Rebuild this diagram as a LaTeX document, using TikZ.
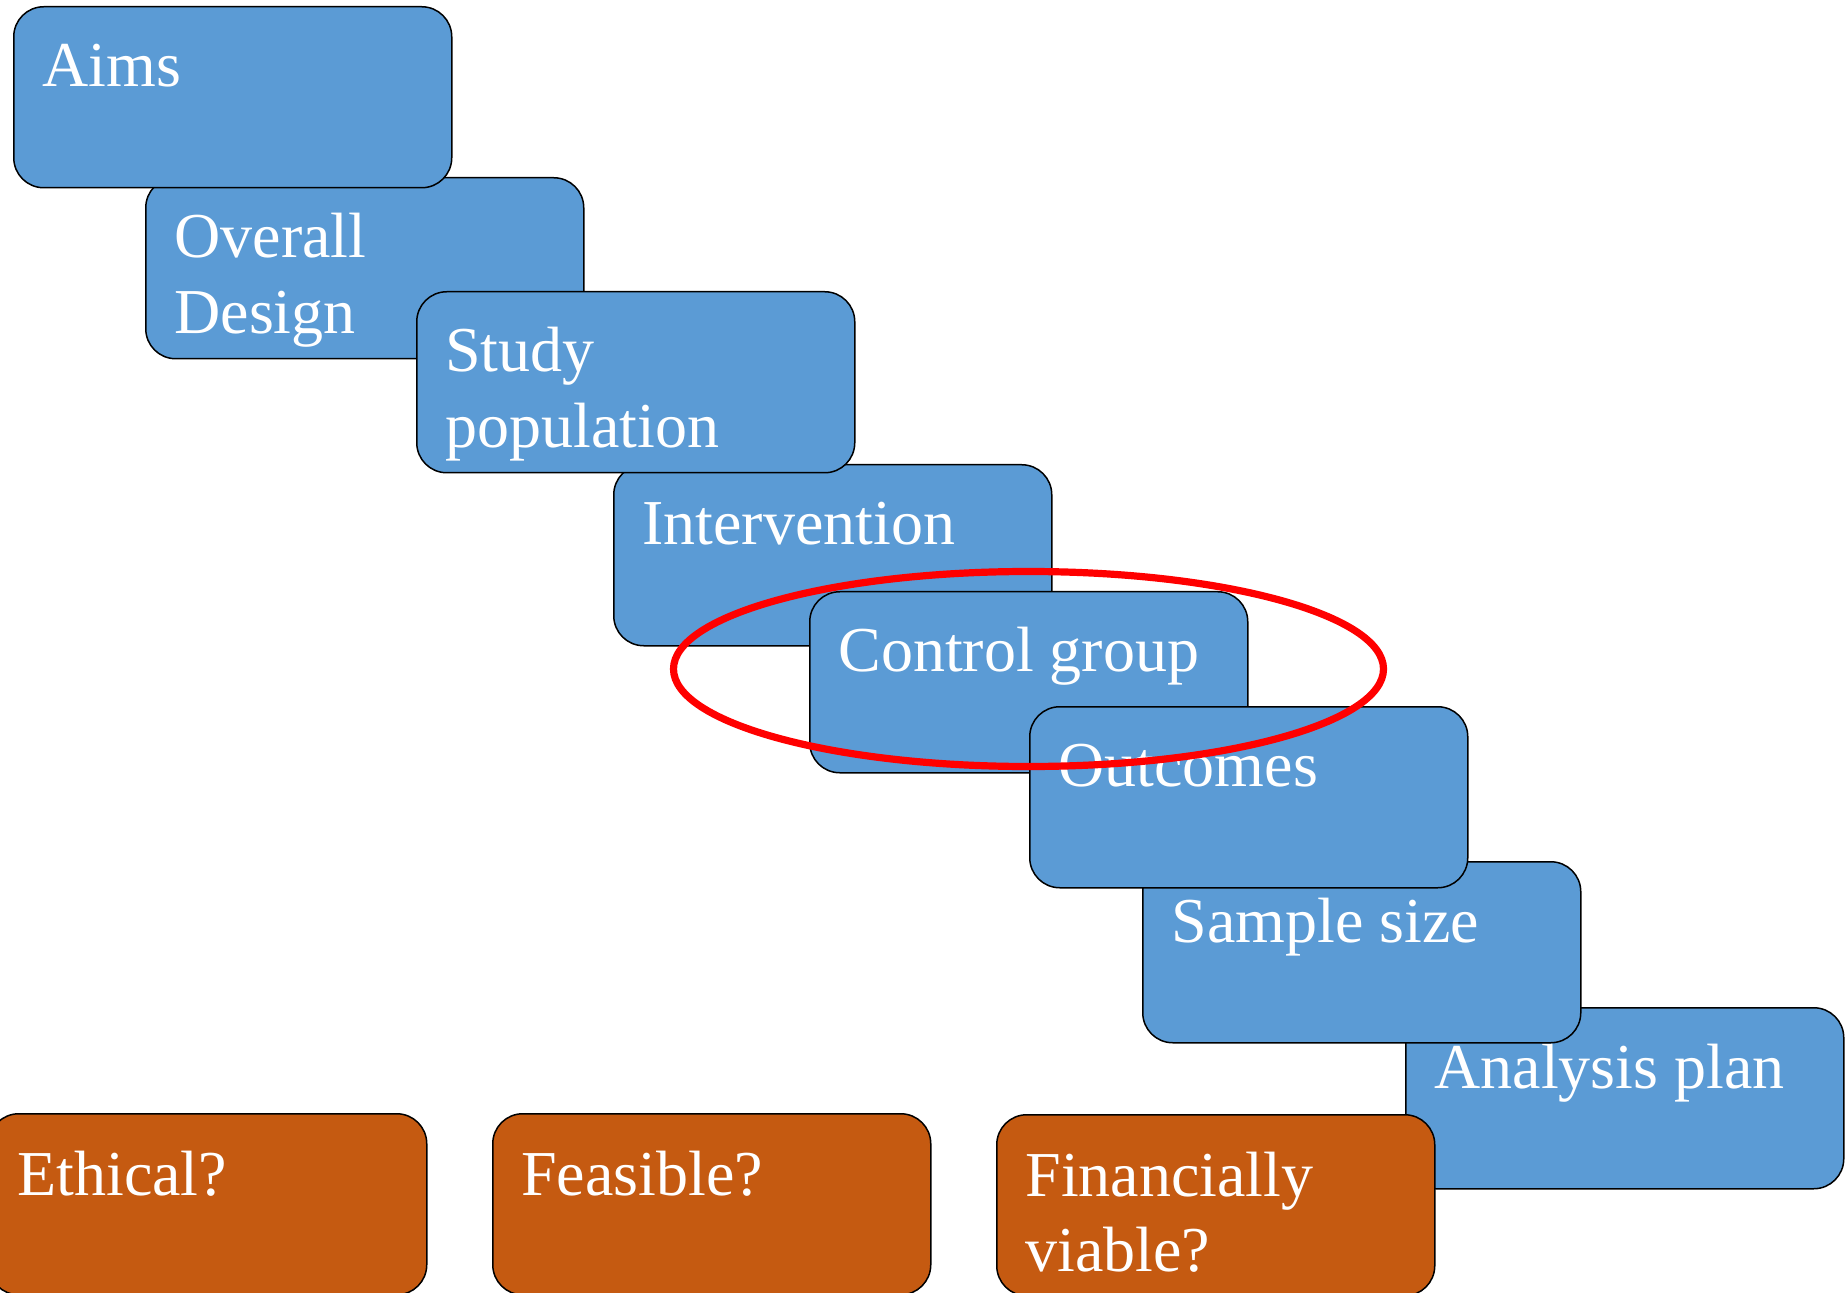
\documentclass[tikz,border=0pt]{standalone}
\usepackage{fontspec}
\setmainfont{Liberation Serif}
\usetikzlibrary{calc}
\definecolor{stepblue}{HTML}{5B9BD5}
\definecolor{checkorange}{HTML}{C55A11}
\begin{document}
\begin{tikzpicture}[x=0.5pt,y=-0.5pt,
  card/.style={draw=black,line width=0.75pt,rounded corners=15pt,
    minimum width=219pt,minimum height=90.5pt,inner sep=0pt,anchor=north west},
  stage/.style={card,fill=stepblue},
  check/.style={card,fill=checkorange},
  lbl/.style={text=white,inner sep=0pt,anchor=base west,
    font=\fontsize{32pt}{37.75pt}\selectfont},
  ring/.style={draw=red,line width=3.6pt}]
\useasboundingbox (0,0) rectangle (1845,1293);

% staircase of planning steps (stacking order chosen so the overlaps read correctly)
\node[stage] (design)   at (145,177) {};
\node[lbl] (tdesign) at ($(design.north west)+(29,81)$) {\begin{tabular}[t]{@{}l@{}}Overall\\Design\end{tabular}};
\node[stage] (aims)     at (13,6)    {};
\node[lbl] (taims) at ($(aims.north west)+(29,81)$) {Aims};
\node[stage] (interv)   at (613,464) {};
\node[lbl] (tinterv) at ($(interv.north west)+(29,81)$) {Intervention};
\node[stage] (pop)      at (416,291) {};
\node[lbl] (tpop) at ($(pop.north west)+(29,81)$) {\begin{tabular}[t]{@{}l@{}}Study\\population\end{tabular}};
\node[stage] (control)  at (809,591) {};
\node[lbl] (tcontrol) at ($(control.north west)+(29,80)$) {Control group};
\node[stage] (analysis) at (1405,1007) {};
\node[lbl] (tanalysis) at ($(analysis.north west)+(29,81)$) {Analysis plan};
\node[stage] (sample)   at (1142,861) {};
\node[lbl] (tsample) at ($(sample.north west)+(29,81)$) {Sample size};
\node[stage] (outcomes) at (1029,706) {};
\node[lbl] (toutcomes) at ($(outcomes.north west)+(29,80)$) {Outcomes};

% overall checks along the bottom
\node[check] (ethical)   at (-12,1113) {};
\node[lbl] (tethical) at ($(ethical.north west)+(29,82)$) {Ethical?};
\node[check] (feasible)  at (492,1113) {};
\node[lbl] (tfeasible) at ($(feasible.north west)+(29,82)$) {Feasible?};
\node[check] (financial) at (996,1114) {};
\node[lbl] (tfinancial) at ($(financial.north west)+(29,82)$) {\begin{tabular}[t]{@{}l@{}}Financially\\viable?\end{tabular}};

% highlight on the control group step
\draw[ring] (1028.5,669) ellipse [x radius=355pt/2, y radius=97.5pt/2];
\end{tikzpicture}
\end{document}
